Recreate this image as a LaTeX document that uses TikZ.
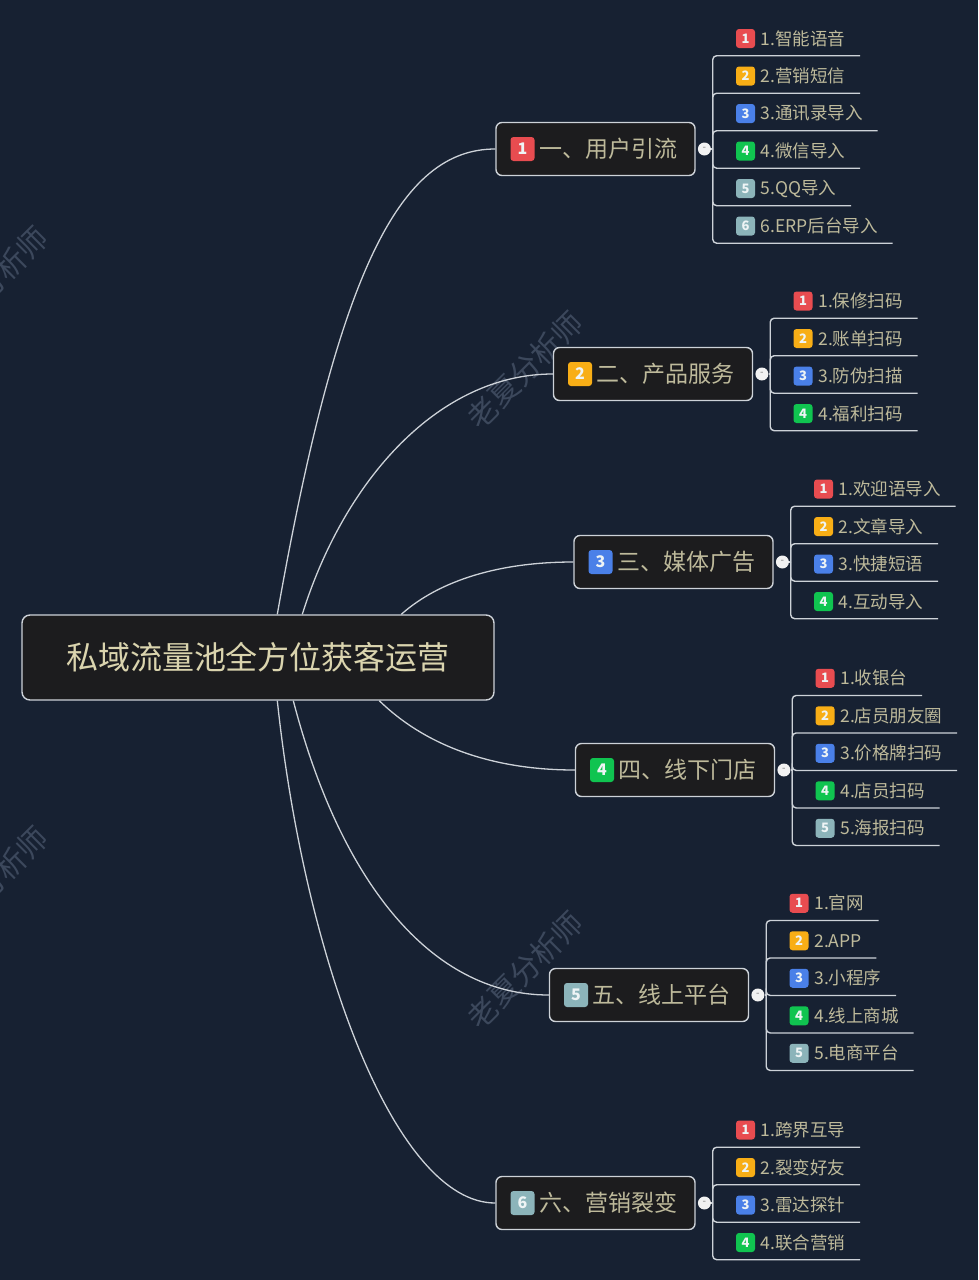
\documentclass[tikz,border=0pt]{standalone}
\usepackage{fontspec}
\setmainfont{Noto Sans CJK SC}
\usepackage{tikz}
\usetikzlibrary{positioning,calc}
\definecolor{PageBg}{RGB}{23,33,50}
\definecolor{BoxFill}{RGB}{28,28,30}
\definecolor{WireColor}{RGB}{205,210,216}
\definecolor{LabelText}{RGB}{190,186,155}
\definecolor{RootText}{RGB}{218,212,174}
\definecolor{MarkText}{RGB}{60,72,92}
\definecolor{Tag1}{RGB}{232,76,80}
\definecolor{Tag2}{RGB}{248,174,22}
\definecolor{Tag3}{RGB}{74,128,232}
\definecolor{Tag4}{RGB}{16,196,80}
\definecolor{Tag5}{RGB}{140,180,186}
\definecolor{Tag6}{RGB}{140,180,186}
\tikzset{
  % Central box
  rootbox/.style={
    rectangle,
    rounded corners=8,
    draw=WireColor,
    fill=BoxFill,
    line width=1.4pt,
    minimum width=472,
    minimum height=85,
    text=RootText,
    font=\fontsize{32}{36}\selectfont
  },
  % Second level box
  branchbox/.style={
    rectangle,
    rounded corners=6,
    draw=WireColor,
    fill=BoxFill,
    line width=1.4pt,
    minimum width=199,
    minimum height=53
  },
  branchtext/.style={
    anchor=west,
    inner sep=0pt,
    text=LabelText,
    font=\fontsize{23}{26}\selectfont
  },
  % Third level label, its south edge is the underline
  leaftext/.style={
    anchor=west,
    inner xsep=14.5pt,
    inner ysep=0pt,
    minimum height=34,
    text=LabelText,
    font=\fontsize{17.5}{20}\selectfont
  },
  % Number tags
  bigtag/.style={
    rectangle,
    rounded corners=3,
    minimum size=24,
    inner sep=0pt,
    text=white!85!Tag5,
    font=\fontsize{16}{18}\selectfont\bfseries
  },
  smalltag/.style={
    rectangle,
    rounded corners=3,
    minimum size=19,
    inner sep=0pt,
    text=white!85!Tag5,
    font=\fontsize{13}{15}\selectfont\bfseries
  },
  % Fold button
  folddot/.style={
    circle,
    fill=white!90!gray,
    minimum size=13,
    inner sep=0pt,
    text=gray,
    font=\fontsize{10}{10}\selectfont
  },
  curve/.style={
    draw=WireColor,
    line width=1.3pt
  },
  wire/.style={
    draw=WireColor,
    line width=1.4pt,
    rounded corners=4
  },
  watermark/.style={
    rotate=45,
    text=MarkText,
    font=\fontsize{30}{32}\selectfont
  }
}
\begin{document}
\begin{tikzpicture}[x=1pt,y=-1pt]
  \useasboundingbox (0,0) rectangle (978,1280);
  \fill[PageBg] (0,0) rectangle (978,1280);
  % Watermarks
  \begin{scope}
    \clip (0,0) rectangle (978,1280);
    \foreach \i/\mx/\my in {1/525/370,2/525/970,3/-10/285,4/-10/885} {
      \node[watermark] (mark\i) at (\mx,\my) {老夏分析师};
    }
  \end{scope}
  % Central box
  \node[rootbox] (root) at (258,657.5) {私域流量池全方位获客运营};
  % Branch boxes, tags and leaves
  \foreach \b/\x/\y/\t/\leaves in {
    1/595.5/149/一、用户引流/{1.智能语音,2.营销短信,3.通讯录导入,4.微信导入,5.QQ导入,6.ERP后台导入},
    2/653/374/二、产品服务/{1.保修扫码,2.账单扫码,3.防伪扫描,4.福利扫码},
    3/673.5/562/三、媒体广告/{1.欢迎语导入,2.文章导入,3.快捷短语,4.互动导入},
    4/675/770/四、线下门店/{1.收银台,2.店员朋友圈,3.价格牌扫码,4.店员扫码,5.海报扫码},
    5/649/995/五、线上平台/{1.官网,2.APP,3.小程序,4.线上商城,5.电商平台},
    6/595.5/1203/六、营销裂变/{1.跨界互导,2.裂变好友,3.雷达探针,4.联合营销}%
  } {
    \node[branchbox] (box\b) at (\x,\y) {};
    \node[bigtag, fill=Tag\b, right=15pt of box\b.west] (tag\b) {\b};
    \node[branchtext, right=4.5pt of tag\b.east] (title\b) {\t};
    \node[folddot, right=2pt of box\b.east] (dot\b) {-};
    \coordinate[right=17pt of box\b.east] (hub\b);
    \draw[curve] (dot\b) -- (hub\b);
    % Count the leaves, then stack them around the branch
    \foreach \l [count=\n] in \leaves { \xdef\total{\n} }
    \foreach \l [count=\n] in \leaves {
      \pgfmathsetmacro{\ly}{\y + 37.5*(\n - \total/2) - 35.5}
      \pgfmathsetmacro{\lx}{\x + 99.5 + 50.5}
      \node[smalltag, fill=Tag\n] (leaftag\b-\n) at (\lx,\ly) {\n};
      \node[leaftext, right=-9pt of leaftag\b-\n.east] (leaf\b-\n) {\l};
      \draw[wire] (hub\b) |- (leaf\b-\n.south east);
    }
  }
  % Curves from the central box
  \draw[curve] ([xshift=256]root.north west) .. controls (338,270) and (400,149) .. (box1.west);
  \draw[curve] ([xshift=281]root.north west) .. controls (345,478) and (440,374) .. (box2.west);
  \draw[curve] ([xshift=380]root.north west) .. controls (440,580) and (500,562) .. (box3.west);
  \draw[curve] ([xshift=358]root.south west) .. controls (430,750) and (500,770) .. (box4.west);
  \draw[curve] ([xshift=272]root.south west) .. controls (340,880) and (430,995) .. (box5.west);
  \draw[curve] ([xshift=256]root.south west) .. controls (305,960) and (395,1203) .. (box6.west);
\end{tikzpicture}
\end{document}
